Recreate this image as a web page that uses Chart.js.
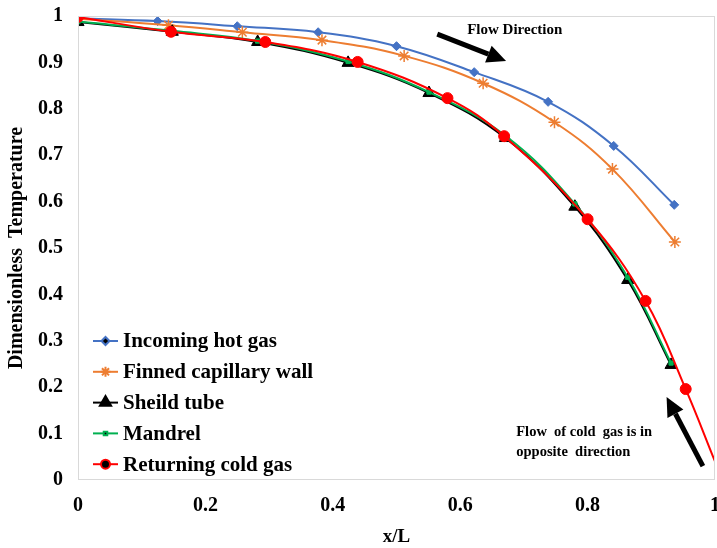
<!DOCTYPE html>
<html>
<head>
<meta charset="utf-8">
<script src="https://cdn.jsdelivr.net/npm/chart.js@4.4.1/dist/chart.umd.min.js"></script>
<style>
  html, body { margin: 0; padding: 0; background: #fff; }
  #wrap { width: 717px; height: 548px; }
</style>
</head>
<body>
<div id="wrap"><canvas id="tempChart"></canvas></div>
<script>
// values (x/L, dimensionless temperature)
const hotGasX = [0, 0.125, 0.25, 0.377, 0.50, 0.622, 0.738, 0.841, 0.936];
const hotGasY = [0.995, 0.989, 0.978, 0.965, 0.935, 0.879, 0.815, 0.72, 0.593];

const wallX = [0, 0.142, 0.258, 0.383, 0.512, 0.636, 0.748, 0.839, 0.937];
const wallY = [0.994, 0.98, 0.965, 0.948, 0.914, 0.855, 0.771, 0.67, 0.513];

const shieldX = [0, 0.148, 0.282, 0.424, 0.551, 0.671, 0.78, 0.863, 0.931];
const shieldY = [0.987, 0.966, 0.944, 0.899, 0.834, 0.737, 0.589, 0.431, 0.248];

const mandrelX = [0, 0.148, 0.282, 0.424, 0.551, 0.671, 0.78, 0.863, 0.931];
const mandrelY = [0.988, 0.968, 0.946, 0.902, 0.836, 0.742, 0.595, 0.437, 0.252];

const coldGasX = [0, 0.146, 0.294, 0.439, 0.58, 0.669, 0.80, 0.891, 0.954, 1.0];
const coldGasY = [0.998, 0.966, 0.944, 0.901, 0.823, 0.741, 0.562, 0.386, 0.196, 0.04];

const seriesNames = ['Incoming hot gas', 'Finned capillary wall', 'Sheild tube', 'Mandrel', 'Returning cold gas'];

const toPoints = (xs, ys) => xs.map((x, i) => ({ x: x, y: ys[i] }));

const serif = '"Liberation Serif", "Times New Roman", serif';

// the reference plot runs right up to the edge of the image
const stretchRight = {
    id: 'stretchRight',
    afterLayout(chart) {
        const xs = chart.scales.x;
        const right = chart.width - 2;
        xs.right = right;
        xs.width = right - xs.left;
        xs.configure();
        chart.chartArea.right = right;
        chart.chartArea.width = right - chart.chartArea.left;
    }
};

const frameAndNotes = {
    id: 'frameAndNotes',
    afterDraw(chart) {
        const { ctx, chartArea, scales } = chart;
        const px = v => scales.x.getPixelForValue(v);
        const py = v => scales.y.getPixelForValue(v);

        // plot box
        ctx.save();
        ctx.strokeStyle = '#d9d9d9';
        ctx.lineWidth = 1;
        ctx.strokeRect(chartArea.left + 0.5, chartArea.top + 0.5,
            chartArea.right - chartArea.left - 1, chartArea.bottom - chartArea.top - 1);

        // arrows
        function arrow(x1, y1, x2, y2) {
            const ang = Math.atan2(y2 - y1, x2 - x1);
            const head = 19, half = 9;
            const bx = x2 - head * Math.cos(ang), by = y2 - head * Math.sin(ang);
            ctx.strokeStyle = '#000';
            ctx.fillStyle = '#000';
            ctx.lineWidth = 5;
            ctx.beginPath();
            ctx.moveTo(x1, y1);
            ctx.lineTo(bx, by);
            ctx.stroke();
            ctx.beginPath();
            ctx.moveTo(x2, y2);
            ctx.lineTo(bx + half * Math.sin(ang), by - half * Math.cos(ang));
            ctx.lineTo(bx - half * Math.sin(ang), by + half * Math.cos(ang));
            ctx.closePath();
            ctx.fill();
        }
        arrow(px(0.564), py(0.961), px(0.672), py(0.903));
        arrow(px(0.981), py(0.030), px(0.924), py(0.179));

        ctx.fillStyle = '#000';
        ctx.textBaseline = 'middle';
        ctx.textAlign = 'left';
        ctx.font = 'bold 15px ' + serif;
        ctx.fillText('Flow Direction', px(0.611), py(0.970));
        ctx.font = 'bold 14.5px ' + serif;
        ctx.fillText('Flow  of cold  gas is in', px(0.688), py(0.103));
        ctx.fillText('opposite  direction', px(0.688), py(0.060));

        // legend inside the plot
        const lx = chartArea.left + 15;
        let ly = chartArea.bottom - 139;
        ctx.font = 'bold 21px ' + serif;
        chart.data.datasets.forEach(ds => {
            ctx.strokeStyle = ds.borderColor;
            ctx.lineWidth = 2;
            ctx.beginPath();
            ctx.moveTo(lx, ly);
            ctx.lineTo(lx + 25, ly);
            ctx.stroke();
            Chart.helpers.drawPoint(ctx, {
                pointStyle: ds.pointStyle,
                radius: ds.legendRadius,
                borderWidth: ds.pointBorderWidth || 1,
                rotation: 0
            }, lx + 12.5, ly);
            ctx.fillStyle = '#000';
            ctx.fillText(ds.label, lx + 30, ly + 1);
            ly += 30.8;
        });
        ctx.restore();
    }
};

function series(i, xs, ys, color, style, radius, legendRadius, order) {
    return {
        label: seriesNames[i],
        data: toPoints(xs, ys),
        borderColor: color,
        backgroundColor: color,
        pointBackgroundColor: color,
        pointBorderColor: color,
        pointStyle: style,
        pointRadius: radius,
        pointBorderWidth: style === 'star' ? 1.5 : 1,
        legendRadius: legendRadius,
        borderWidth: 2,
        tension: 0.4,
        order: order
    };
}

const coldRadius = coldGasX.map((x, i) => i === coldGasX.length - 1 ? 0 : 5.5);

const tickLabel = v => String(Number(v.toFixed(1)));

const ctx = document.getElementById('tempChart').getContext('2d');
const tempChart = new Chart(ctx, {
    type: 'line',
    data: {
        datasets: [
            series(0, hotGasX, hotGasY, '#4472C4', 'rectRot', 4.5, 4, 5),
            series(1, wallX, wallY, '#ED7D31', 'star', 6, 5, 4),
            series(2, shieldX, shieldY, '#000000', 'triangle', 7, 6.5, 3),
            series(3, mandrelX, mandrelY, '#00B050', 'rect', 3, 2.5, 2),
            series(4, coldGasX, coldGasY, '#FF0000', 'circle', coldRadius, 4.5, 1)
        ]
    },
    options: {
        responsive: true,
        maintainAspectRatio: false,
        animation: false,
        layout: { padding: { top: 16, right: 2, left: 0, bottom: 0 } },
        plugins: {
            legend: { display: false },
            tooltip: { enabled: false }
        },
        scales: {
            x: {
                type: 'linear',
                min: 0,
                max: 1,
                grid: { display: false, drawTicks: false },
                border: { display: false },
                afterFit(scale) {
                    scale.height = 68;
                },
                ticks: {
                    stepSize: 0.2,
                    padding: 14,
                    color: '#000',
                    callback: tickLabel,
                    font: { family: serif, size: 20, weight: 'bold' }
                },
                title: {
                    display: true,
                    text: 'x/L',
                    color: '#000',
                    padding: { top: 0, bottom: 0 },
                    font: { family: serif, size: 19, weight: 'bold' }
                }
            },
            y: {
                min: 0,
                max: 1,
                grid: { display: false, drawTicks: false },
                border: { display: false },
                afterFit(scale) {
                    scale.width = 78;
                    scale.paddingTop = 0;
                    scale.paddingBottom = 0;
                },
                ticks: {
                    stepSize: 0.1,
                    padding: 15,
                    color: '#000',
                    callback: tickLabel,
                    font: { family: serif, size: 20, weight: 'bold' }
                },
                title: {
                    display: true,
                    text: 'Dimensionless  Temperature',
                    color: '#000',
                    padding: { top: 5, bottom: 0 },
                    font: { family: serif, size: 20, weight: 'bold' }
                }
            }
        }
    },
    plugins: [stretchRight, frameAndNotes]
});
</script>
</body>
</html>
